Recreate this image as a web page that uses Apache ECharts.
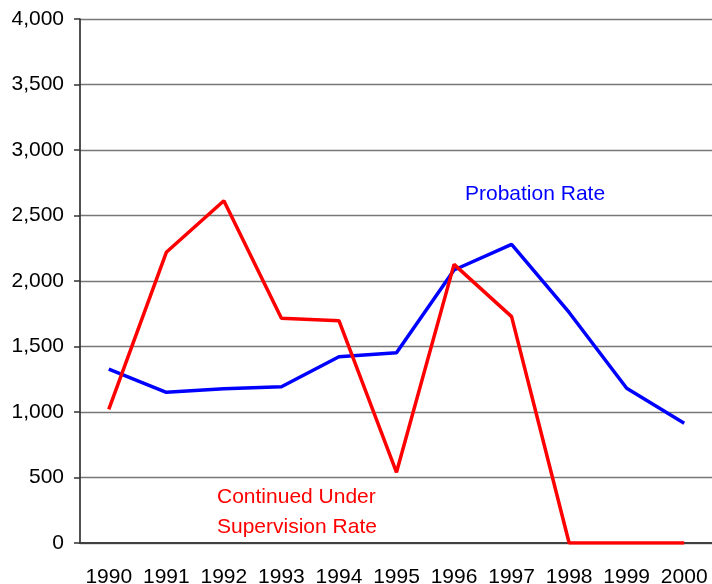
<!DOCTYPE html>
<html>
<head>
<meta charset="utf-8">
<script src="https://cdn.jsdelivr.net/npm/echarts@6/dist/echarts.min.js"></script>
<style>
  html, body { margin: 0; padding: 0; background: #fff; }
  #main { width: 712px; height: 584px; }
</style>
</head>
<body>
<div id="main"></div>
<script>
var years = ['1990', '1991', '1992', '1993', '1994', '1995', '1996', '1997', '1998', '1999', '2000'];
var probationRate = [1328, 1150, 1178, 1193, 1422, 1453, 2084, 2280, 1760, 1181, 914];
var supervisionRate = [1020, 2219, 2613, 1715, 1697, 540, 2127, 1728, 0, 0, 0];
var yTicks = { min: 0, max: 4000, interval: 500 };

var myChart = echarts.init(document.getElementById('main'));

var font = 'Liberation Sans, Arial, sans-serif';

var option = {
    animation: false,
    backgroundColor: '#fff',
    grid: { left: 80, right: -1, top: 19, bottom: 41, outerBoundsMode: 'none' },
    xAxis: {
        type: 'category',
        data: years,
        boundaryGap: true,
        axisLine: { lineStyle: { color: '#404040', width: 2 } },
        axisTick: { length: 6, lineStyle: { color: '#404040', width: 1.5 } },
        axisLabel: { color: '#000', fontFamily: font, fontSize: 21, margin: 24, interval: 0 },
        splitLine: { show: false }
    },
    yAxis: {
        type: 'value',
        min: yTicks.min,
        max: yTicks.max,
        interval: yTicks.interval,
        axisLine: { show: true, lineStyle: { color: '#333', width: 1.7 } },
        axisTick: { show: true, length: 6, lineStyle: { color: '#333', width: 1.5 } },
        axisLabel: {
            color: '#000', fontFamily: font, fontSize: 21, margin: 16,
            formatter: function (v) { return v.toLocaleString('en-US'); }
        },
        splitLine: { lineStyle: { color: '#777', width: 1.3 } }
    },
    series: [{
        name: 'Probation Rate',
        type: 'line',
        data: probationRate,
        symbol: 'none',
        lineStyle: { color: '#0000FF', width: 3.5 },
        z: 3
    }, {
        name: 'Continued Under Supervision Rate',
        type: 'line',
        data: supervisionRate,
        symbol: 'none',
        lineStyle: { color: '#FF0000', width: 3.5 },
        z: 4
    }],
    graphic: [{
        type: 'text',
        left: 465,
        top: 184,
        style: { text: 'Probation Rate', fill: '#0000FF', font: '21px ' + font }
    }, {
        type: 'text',
        left: 217,
        top: 482,
        style: { text: 'Continued Under\nSupervision Rate', fill: '#FF0000', font: '21px ' + font, lineHeight: 30 }
    }]
};

myChart.setOption(option);
</script>
</body>
</html>
